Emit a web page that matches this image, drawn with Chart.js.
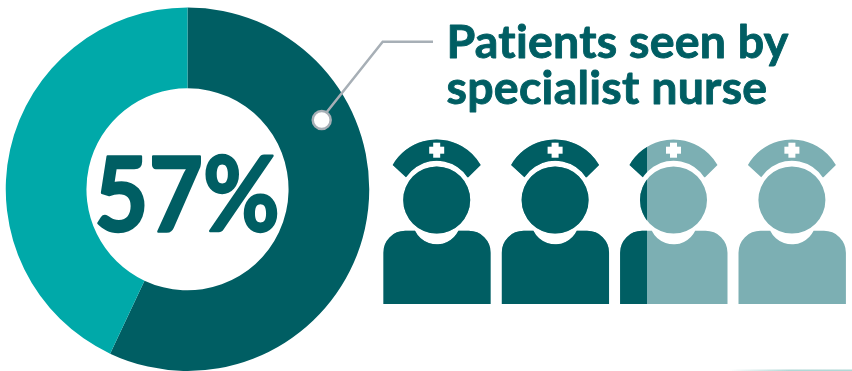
<!DOCTYPE html>
<html>
<head>
<meta charset="utf-8">
<style>
    html, body { margin: 0; padding: 0; background: #fff; }
    #wrap { position: relative; width: 852px; height: 371px; overflow: hidden; }
</style>
</head>
<body>
<div id="wrap"><canvas id="nurseChart" width="852" height="371"></canvas></div>
<script src="https://cdn.jsdelivr.net/npm/chart.js@4/dist/chart.umd.min.js"></script>
<script>
    const categories = ['Seen by specialist nurse', 'Not seen'];
    const shares = [57, 43];
    const titleLines = ['Patients seen by', 'specialist nurse'];
    const nurseFill = [1, 1, 0.25, 0];

    const DARK = '#005e63';
    const TEAL = '#00a9a9';
    const PALE = '#7cafb3';
    const LEADER = '#a7afb6';
    const FONT = "Lato, 'Open Sans', sans-serif";

    // one nurse, drawn relative to the left edge of her body
    function nursePath() {
        const p = new Path2D();
        // cap band
        const capOuter = Math.atan2(-25.2, -44);
        const capInner = Math.atan2(-20.1, -30.7);
        p.moveTo(9.4, 165);
        p.arc(53.4, 190.2, 50.7, capOuter, -Math.PI - capOuter);
        p.lineTo(85, 177.3);
        p.arc(53.4, 197.4, 36.7, -Math.PI - capInner, capInner, true);
        p.closePath();
        // head
        p.moveTo(87, 200);
        p.arc(53.4, 200, 33.5, 0, Math.PI * 2);
        p.closePath();
        // body with neck scoop
        p.moveTo(0, 304);
        p.lineTo(0, 253);
        p.arcTo(0, 230.7, 22, 230.7, 22);
        p.lineTo(31.7, 230.7);
        p.arc(53.4, 220.2, 24.1, Math.PI - Math.asin(10.5 / 24.1), Math.asin(10.5 / 24.1), true);
        p.lineTo(85.4, 230.7);
        p.arcTo(107.4, 230.7, 107.4, 253, 22);
        p.lineTo(107.4, 304);
        p.closePath();
        return p;
    }

    const nursesPlugin = {
        id: 'nurses',
        afterDraw(chart) {
            const ctx = chart.ctx;
            const path = nursePath();
            nurseFill.forEach((fill, i) => {
                ctx.save();
                ctx.translate(383.3 + i * 118.4, 0);
                ctx.fillStyle = PALE;
                ctx.fill(path);
                ctx.beginPath();
                ctx.rect(0, 130, 107.4 * fill, 180);
                ctx.clip();
                ctx.fillStyle = DARK;
                ctx.fill(path);
                ctx.restore();
                // cross on the cap
                ctx.fillStyle = '#fff';
                const cx = 436.7 + i * 118.4;
                ctx.fillRect(cx - 7.5, 146.7, 15, 7);
                ctx.fillRect(cx - 3.5, 142.7, 7, 15);
            });
        },
    };

    // heavier, rounder letters than the plain bold face gives
    function heavyText(ctx, text, x, y, weight) {
        ctx.lineJoin = 'round';
        ctx.lineWidth = weight;
        ctx.strokeStyle = DARK;
        ctx.strokeText(text, x, y);
        ctx.fillText(text, x, y);
    }

    const labelsPlugin = {
        id: 'labels',
        afterDraw(chart) {
            const ctx = chart.ctx;
            ctx.save();

            // leader from the title down into the dark slice
            ctx.strokeStyle = LEADER;
            ctx.lineWidth = 2.5;
            ctx.beginPath();
            ctx.moveTo(433, 41.7);
            ctx.lineTo(382.7, 41.7);
            ctx.lineTo(326, 113);
            ctx.stroke();
            ctx.fillStyle = '#fff';
            ctx.beginPath();
            ctx.arc(321.7, 120, 9, 0, Math.PI * 2);
            ctx.fill();
            ctx.stroke();

            // thin rule fading in along the bottom edge
            const rule = ctx.createLinearGradient(728, 0, 790, 0);
            rule.addColorStop(0, 'rgba(176, 216, 214, 0)');
            rule.addColorStop(1, 'rgba(176, 216, 214, 1)');
            ctx.fillStyle = rule;
            ctx.fillRect(728, 369.5, 124, 1.5);

            ctx.fillStyle = DARK;
            ctx.textBaseline = 'alphabetic';
            ctx.textAlign = 'left';
            ctx.font = '700 46.5px ' + FONT;
            ctx.letterSpacing = '0.25px';
            heavyText(ctx, titleLines[0], 446.5, 58, 0.9);
            heavyText(ctx, titleLines[1], 446.5, 104, 0.9);
            ctx.letterSpacing = '0px';

            ctx.save();
            ctx.translate(187, 231);
            ctx.scale(0.9, 1);
            ctx.textAlign = 'center';
            ctx.font = '700 104px ' + FONT;
            heavyText(ctx, shares[0] + '%', 0, 0, 2.5);
            ctx.restore();
            ctx.restore();
        },
    };

    new Chart(document.getElementById('nurseChart'), {
        type: 'doughnut',
        data: {
            labels: categories,
            datasets: [{
                data: shares,
                backgroundColor: [DARK, TEAL],
                borderWidth: 0,
            }],
        },
        options: {
            responsive: false,
            animation: false,
            cutout: '55.6%',
            // the ring runs a little past the bottom of the canvas
            layout: { padding: { left: 5, right: 482, top: 7.5, bottom: -1.5 } },
            plugins: {
                legend: { display: false },
                tooltip: { enabled: false },
            },
        },
        plugins: [nursesPlugin, labelsPlugin],
    });
</script>
</body>
</html>
